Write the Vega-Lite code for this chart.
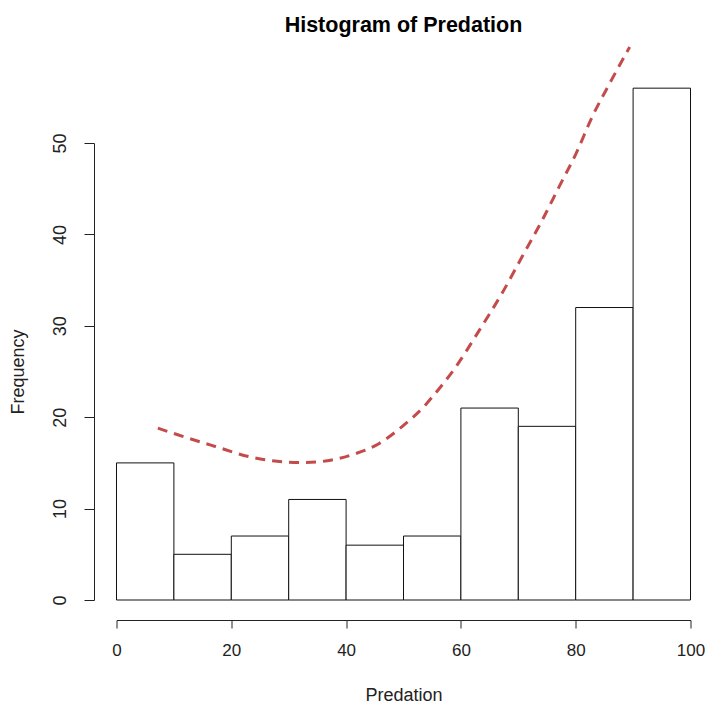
{
  "$schema": "https://vega.github.io/schema/vega-lite/v6.json",
  "width": 574,
  "height": 457,
  "autosize": "none",
  "padding": {"left": 116.5, "top": 143, "right": 14.5, "bottom": 106},
  "background": "white",
  "config": {
    "view": {"stroke": null},
    "font": "Liberation Sans",
    "axis": {"grid": false, "domainColor": "#222", "tickColor": "#222", "labelColor": "#222", "titleColor": "#222", "labelFont": "Liberation Sans", "titleFont": "Liberation Sans", "labelFontSize": 18, "titleFontSize": 18, "titleFontWeight": "normal", "domainWidth": 1, "tickWidth": 1}
  },
  "title": {"text": "Histogram of Predation", "font": "Liberation Sans", "fontSize": 21.5, "fontWeight": "bold", "anchor": "middle", "color": "#000", "offset": 5},
  "datasets": {
    "bins": [
      {"start": 0, "end": 10, "count": 15},
      {"start": 10, "end": 20, "count": 5},
      {"start": 20, "end": 30, "count": 7},
      {"start": 30, "end": 40, "count": 11},
      {"start": 40, "end": 50, "count": 6},
      {"start": 50, "end": 60, "count": 7},
      {"start": 60, "end": 70, "count": 21},
      {"start": 70, "end": 80, "count": 19},
      {"start": 80, "end": 90, "count": 32},
      {"start": 90, "end": 100, "count": 56}
    ],
    "curve": [
      {"x": 7.2, "y": 18.8},
      {"x": 10.8, "y": 18.05},
      {"x": 17.2, "y": 16.8},
      {"x": 23.0, "y": 15.7},
      {"x": 29.4, "y": 15.1},
      {"x": 32.9, "y": 15.05},
      {"x": 36.4, "y": 15.2},
      {"x": 41.1, "y": 15.9},
      {"x": 45.7, "y": 17.1},
      {"x": 49.8, "y": 19.0},
      {"x": 53.9, "y": 21.4},
      {"x": 55.0, "y": 22.2},
      {"x": 59.1, "y": 25.5},
      {"x": 63.2, "y": 29.5},
      {"x": 67.2, "y": 33.6},
      {"x": 70.7, "y": 37.6},
      {"x": 74.2, "y": 41.6},
      {"x": 77.1, "y": 45.2},
      {"x": 80.1, "y": 48.9},
      {"x": 82.9, "y": 52.9},
      {"x": 85.9, "y": 56.5},
      {"x": 89.4, "y": 60.5}
    ]
  },
  "layer": [
    {
      "data": {"name": "bins"},
      "mark": {"type": "rect", "fill": "white", "stroke": "#111", "strokeWidth": 1, "clip": false},
      "encoding": {
        "x": {"field": "start", "type": "quantitative", "scale": {"domain": [0, 100], "nice": false, "zero": false},
              "axis": {"title": "Predation", "values": [0, 20, 40, 60, 80, 100], "offset": 20, "tickSize": 8, "labelFontSize": 17, "labelPadding": 14, "labelFlush": false, "labelOverlap": false, "titlePadding": 28}},
        "x2": {"field": "end"},
        "y": {"field": "count", "type": "quantitative", "scale": {"domain": [0, 50], "nice": false, "zero": true},
              "axis": {"title": "Frequency", "values": [0, 10, 20, 30, 40, 50], "offset": 22.5, "tickSize": 10, "labelAngle": -90, "labelPadding": 15, "labelOverlap": false, "labelFlush": false, "titlePadding": 24}},
        "y2": {"datum": 0}
      }
    },
    {
      "data": {"name": "curve"},
      "mark": {"type": "line", "color": "#C44B4B", "strokeWidth": 3, "strokeDash": [10, 7], "clip": false, "interpolate": "monotone"},
      "encoding": {
        "x": {"field": "x", "type": "quantitative"},
        "y": {"field": "y", "type": "quantitative"}
      }
    }
  ]
}
